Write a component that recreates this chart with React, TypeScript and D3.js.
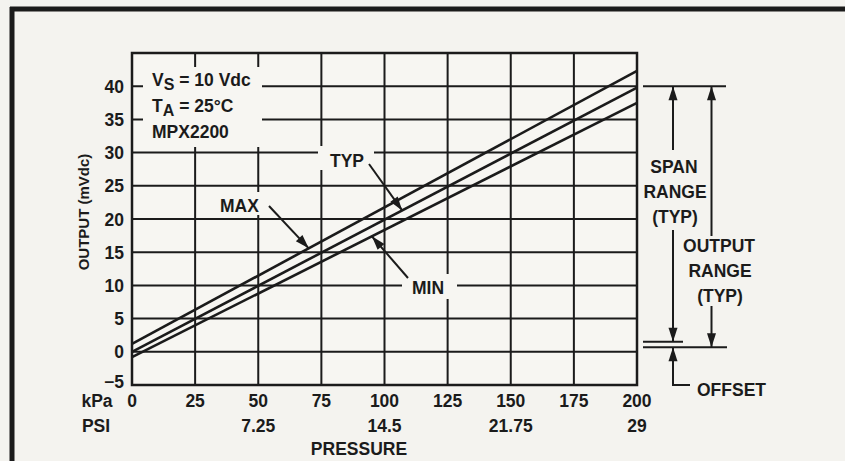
import React, { useEffect, useRef } from 'react';
import * as d3 from 'd3';

// chart data
const pressureKpa = [0, 200];
const maxOutput = [1.2, 42.3];
const typOutput = [0, 39.8];
const minOutput = [-0.8, 37.5];

const kpaTicks = [0, 25, 50, 75, 100, 125, 150, 175, 200];
const psiAtKpa = [50, 100, 150, 200];
const psiLabels = ['7.25', '14.5', '21.75', '29'];
const outputTicks = [-5, 0, 5, 10, 15, 20, 25, 30, 35, 40];
const gridRows = [0, 5, 10, 15, 20, 25, 30, 35, 40];

// right-hand dimension marks (mVdc)
const spanTop = 40;
const offsetLevel = 1.5;
const zeroLevel = 0.7;

const BG = '#f4f3ef';
const INK = '#1b1b1b';
const FONT = '"Liberation Sans", Arial, sans-serif';

const App = () => {
  const svgRef = useRef();

  useEffect(() => {
    document.body.style.margin = '0';
    document.body.style.background = BG;

    const svg = d3.select(svgRef.current);
    svg.selectAll('*').remove();

    const x = d3.scaleLinear().domain([0, 200]).range([132, 637]);
    const y = d3.scaleLinear().domain([-5, 45]).range([385, 53]);

    svg.append('rect').attr('width', 845).attr('height', 461).attr('fill', BG);

    // outer frame (top and left edges visible)
    svg.append('line').attr('x1', 10).attr('x2', 845).attr('y1', 9).attr('y2', 9)
      .attr('stroke', INK).attr('stroke-width', 5);
    svg.append('line').attr('x1', 12).attr('x2', 12).attr('y1', 7).attr('y2', 461)
      .attr('stroke', INK).attr('stroke-width', 5);

    const plot = svg.append('g');
    plot.append('rect')
      .attr('x', x(0)).attr('y', y(45))
      .attr('width', x(200) - x(0)).attr('height', y(-5) - y(45))
      .attr('fill', '#f7f6f2');

    // grid
    plot.selectAll('line.v').data(kpaTicks.slice(1, -1)).enter().append('line')
      .attr('x1', d => x(d)).attr('x2', d => x(d))
      .attr('y1', y(45)).attr('y2', y(-5))
      .attr('stroke', INK).attr('stroke-width', 2);
    plot.selectAll('line.h').data(gridRows).enter().append('line')
      .attr('x1', x(0)).attr('x2', x(200))
      .attr('y1', d => y(d)).attr('y2', d => y(d))
      .attr('stroke', INK).attr('stroke-width', 2);
    plot.append('rect')
      .attr('x', x(0)).attr('y', y(45))
      .attr('width', x(200) - x(0)).attr('height', y(-5) - y(45))
      .attr('fill', 'none').attr('stroke', INK).attr('stroke-width', 2.5);

    // knock-outs behind in-plot labels
    const knock = [
      [143, 67, 119, 80],
      [318, 146, 56, 24],
      [217, 192, 46, 23],
      [402, 274, 55, 25],
    ];
    plot.selectAll('rect.k').data(knock).enter().append('rect')
      .attr('x', d => d[0]).attr('y', d => d[1])
      .attr('width', d => d[2]).attr('height', d => d[3])
      .attr('fill', '#f7f6f2');

    // output curves
    const line = d3.line().x(d => x(d[0])).y(d => y(d[1]));
    [maxOutput, typOutput, minOutput].forEach(vals => {
      plot.append('path')
        .datum(pressureKpa.map((p, i) => [p, vals[i]]))
        .attr('d', line)
        .attr('fill', 'none').attr('stroke', INK).attr('stroke-width', 2.6);
    });

    const text = (g, tx, ty, str, size = 17.5, anchor = 'start') =>
      g.append('text').attr('x', tx).attr('y', ty).text(str)
        .attr('font-family', FONT).attr('font-size', size)
        .attr('font-weight', 700).attr('fill', INK).attr('text-anchor', anchor);

    const arrowHead = (g, x1, y1, x2, y2, len = 14, half = 4.5) => {
      const a = Math.atan2(y2 - y1, x2 - x1);
      const bx = x2 - len * Math.cos(a), by = y2 - len * Math.sin(a);
      const nx = -Math.sin(a) * half, ny = Math.cos(a) * half;
      g.append('path')
        .attr('d', `M${x2},${y2}L${bx + nx},${by + ny}L${bx - nx},${by - ny}Z`)
        .attr('fill', INK);
    };
    const arrow = (g, x1, y1, x2, y2) => {
      g.append('line').attr('x1', x1).attr('y1', y1).attr('x2', x2).attr('y2', y2)
        .attr('stroke', INK).attr('stroke-width', 2);
      arrowHead(g, x1, y1, x2, y2);
    };

    // in-plot labels
    const vs = text(svg, 152, 86, 'V');
    vs.append('tspan').attr('dy', 4).attr('font-size', 16).text('S');
    vs.append('tspan').attr('dy', -4).text(' = 10 Vdc');
    const ta = text(svg, 152, 112, 'T');
    ta.append('tspan').attr('dy', 4).attr('font-size', 16).text('A');
    ta.append('tspan').attr('dy', -4).text(' = 25°C');
    text(svg, 152, 138, 'MPX2200');

    text(svg, 330, 167, 'TYP');
    arrow(svg, 369, 164, x(107), y(d3.interpolateNumber(typOutput[0], typOutput[1])(107 / 200)));
    text(svg, 220, 212, 'MAX');
    arrow(svg, 269, 206, x(70), y(d3.interpolateNumber(maxOutput[0], maxOutput[1])(70 / 200)));
    text(svg, 412, 294, 'MIN');
    arrow(svg, 408, 278, x(95), y(d3.interpolateNumber(minOutput[0], minOutput[1])(95 / 200)));

    // axes labels
    svg.selectAll('text.yt').data(outputTicks).enter().append('text')
      .attr('x', 124).attr('y', d => y(d) + (d === -5 ? 3 : 6.5))
      .attr('text-anchor', 'end')
      .attr('font-family', FONT).attr('font-size', 17.5).attr('font-weight', 700).attr('fill', INK)
      .text(d => (d < 0 ? '\u2212' + Math.abs(d) : d));
    svg.selectAll('text.xt').data(kpaTicks).enter().append('text')
      .attr('x', d => x(d)).attr('y', 407)
      .attr('text-anchor', 'middle')
      .attr('font-family', FONT).attr('font-size', 17.5).attr('font-weight', 700).attr('fill', INK)
      .text(d => d);
    svg.selectAll('text.pt').data(psiAtKpa).enter().append('text')
      .attr('x', d => x(d)).attr('y', 432)
      .attr('text-anchor', 'middle')
      .attr('font-family', FONT).attr('font-size', 17.5).attr('font-weight', 700).attr('fill', INK)
      .text((d, i) => psiLabels[i]);
    text(svg, 97, 407, 'kPa', 17.5, 'middle');
    text(svg, 96, 432, 'PSI', 17.5, 'middle');
    text(svg, 359, 455, 'PRESSURE', 17.5, 'middle');
    text(svg, 0, 0, 'OUTPUT (mVdc)', 15, 'middle')
      .attr('transform', 'translate(89,212) rotate(-90)');

    // span / output range / offset dimensions
    const ann = svg.append('g');
    const hline = (yy, x1, x2) => ann.append('line')
      .attr('x1', x1).attr('x2', x2).attr('y1', yy).attr('y2', yy)
      .attr('stroke', INK).attr('stroke-width', 2);
    const vline = (xx, y1, y2) => ann.append('line')
      .attr('x1', xx).attr('x2', xx).attr('y1', y1).attr('y2', y2)
      .attr('stroke', INK).attr('stroke-width', 2);

    hline(y(spanTop), 643, 726);
    hline(y(offsetLevel), 643, 683);
    hline(y(zeroLevel), 643, 727);

    const sx = 673, ox = 711.5;
    arrow(ann, sx, 150, sx, y(spanTop));
    arrow(ann, sx, 230, sx, y(offsetLevel));
    text(ann, 674, 173, 'SPAN', 17.5, 'middle');
    text(ann, 675, 198, 'RANGE', 17.5, 'middle');
    text(ann, 675, 223, '(TYP)', 17.5, 'middle');

    arrow(ann, ox, 236, ox, y(spanTop));
    arrow(ann, ox, 306, ox, y(zeroLevel));
    text(ann, 719, 252, 'OUTPUT', 17.5, 'middle');
    text(ann, 720, 277, 'RANGE', 17.5, 'middle');
    text(ann, 720, 302, '(TYP)', 17.5, 'middle');

    arrow(ann, sx, 366, sx, y(zeroLevel));
    vline(sx, 366, 385);
    hline(385, sx - 1, 690);
    text(ann, 697, 396, 'OFFSET');
  });

  return (
    <svg ref={svgRef} width={845} height={461}
      style={{ position: 'absolute', left: 0, top: 0, display: 'block' }} />
  );
};

export default App;
